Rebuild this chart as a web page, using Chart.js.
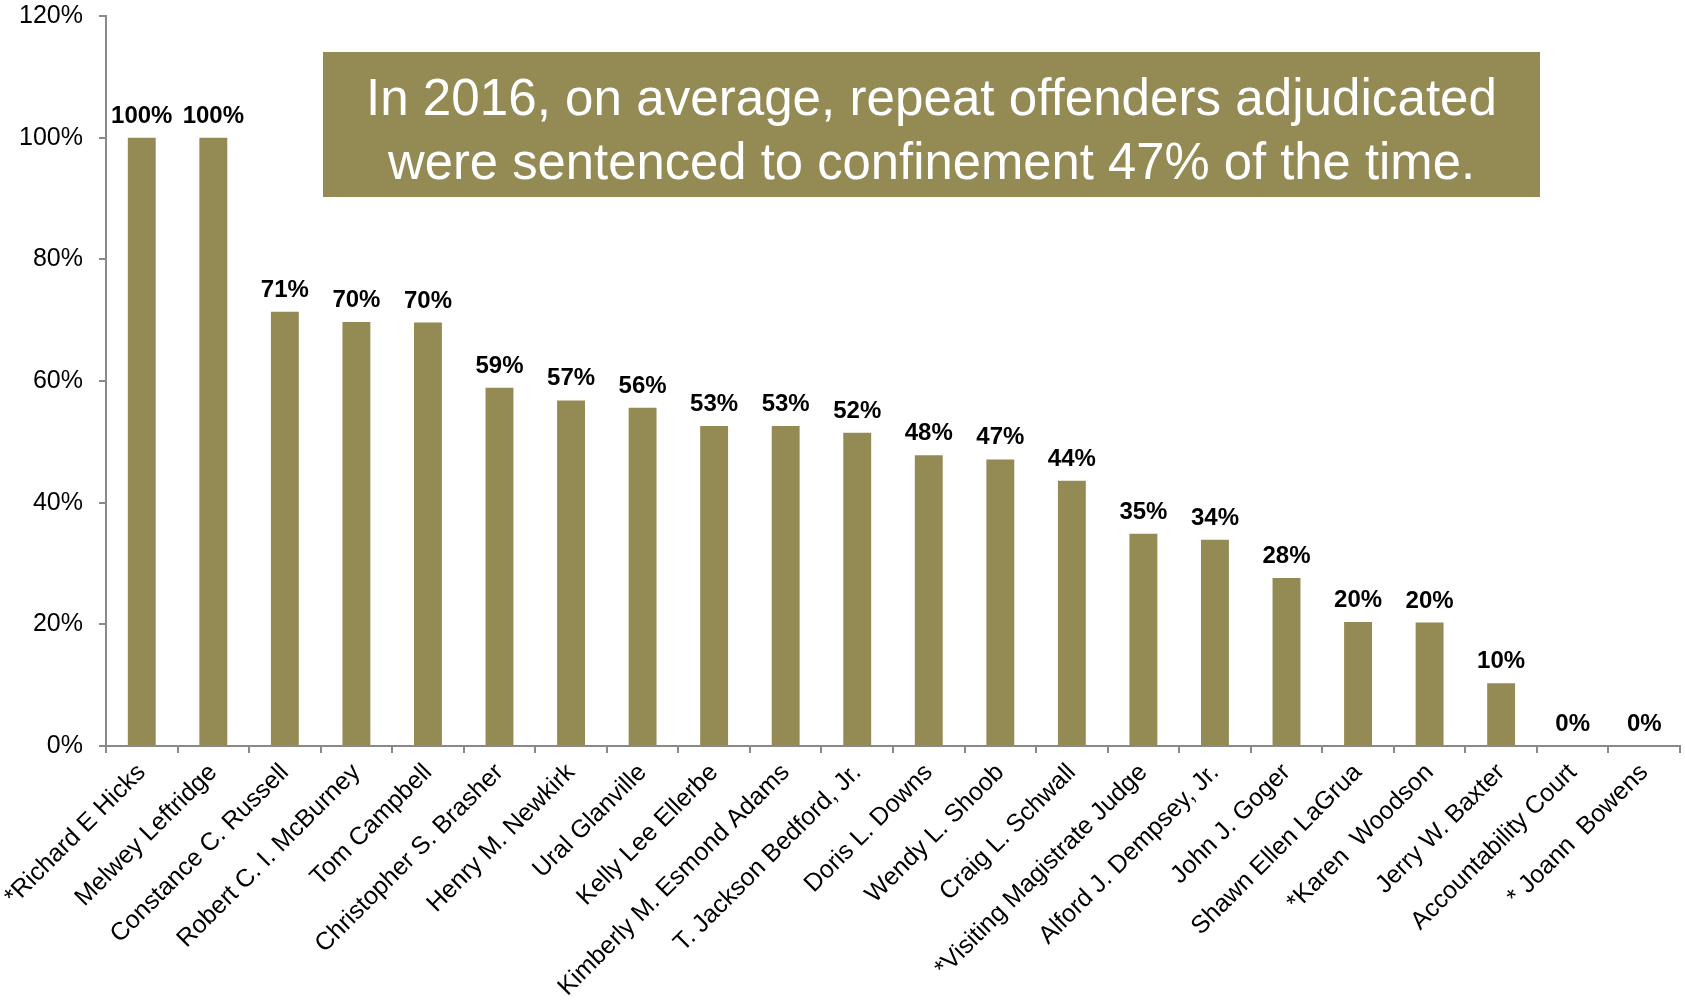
<!DOCTYPE html>
<html lang="en">
<head>
<meta charset="UTF-8">
<title>Repeat offenders sentenced to confinement, 2016</title>
<script src="https://cdn.jsdelivr.net/npm/chart.js"></script>
<style>
    body, html { margin: 0; padding: 0; background: #fff; }
    #chartContainer { width: 1685px; height: 1003px; position: relative; }
</style>
</head>
<body>
<div id="chartContainer"><canvas id="chartCanvas" width="1685" height="1003"></canvas></div>

<script>
    // judges, in the order the bars are drawn
    const judges = [
        '*Richard E Hicks', 'Melwey Leftridge', 'Constance C. Russell', 'Robert C. I. McBurney',
        'Tom Campbell', 'Christopher S. Brasher', 'Henry M. Newkirk', 'Ural Glanville',
        'Kelly Lee Ellerbe', 'Kimberly M. Esmond Adams', 'T. Jackson Bedford, Jr.', 'Doris L. Downs',
        'Wendy L. Shoob', 'Craig L. Schwall', '*Visiting Magistrate Judge', 'Alford J. Dempsey, Jr.',
        'John J. Goger', 'Shawn Ellen LaGrua', '*Karen  Woodson', 'Jerry W. Baxter',
        'Accountability Court', '* Joann  Bowens'
    ];

    // share of repeat offenders sentenced to confinement (%)
    const confinementRates = [
        100, 100, 71.4, 69.7, 69.6, 58.9, 56.8, 55.6, 52.6, 52.6, 51.5,
        47.8, 47.1, 43.6, 34.9, 33.9, 27.6, 20.4, 20.3, 10.3, 0, 0
    ];

    const yTicks = [0, 20, 40, 60, 80, 100, 120];

    const calloutLines = [
        'In 2016, on average, repeat offenders adjudicated',
        'were sentenced to confinement 47% of the time.'
    ];

    const barColor = '#948A54';
    const axisColor = '#898989';
    const fontFamily = '"Liberation Sans", Arial, sans-serif';

    Chart.defaults.font.family = fontFamily;

    // percent label above each bar
    const valueLabels = {
        id: 'valueLabels',
        afterDatasetsDraw(chart) {
            const ctx = chart.ctx;
            const meta = chart.getDatasetMeta(0);
            ctx.save();
            ctx.font = 'bold 24px ' + fontFamily;
            ctx.fillStyle = '#000';
            ctx.textAlign = 'center';
            ctx.textBaseline = 'alphabetic';
            meta.data.forEach((bar, i) => {
                ctx.fillText(Math.round(confinementRates[i]) + '%', bar.x, bar.y - 15);
            });
            ctx.restore();
        }
    };

    // olive callout box with the summary text
    const calloutBox = {
        id: 'calloutBox',
        afterDraw(chart) {
            const ctx = chart.ctx;
            const x = 323, y = 52, w = 1217, h = 145;
            ctx.save();
            ctx.fillStyle = barColor;
            ctx.fillRect(x, y, w, h);
            ctx.fillStyle = '#fff';
            ctx.font = '52px ' + fontFamily;
            ctx.textAlign = 'center';
            ctx.textBaseline = 'alphabetic';
            ctx.fillText(calloutLines[0], x + w / 2, 115, 1131);
            ctx.fillText(calloutLines[1], x + w / 2, 179, 1087);
            ctx.restore();
        }
    };

    const ctx = document.getElementById('chartCanvas').getContext('2d');
    new Chart(ctx, {
        type: 'bar',
        data: {
            labels: judges,
            datasets: [{
                data: confinementRates,
                backgroundColor: barColor,
                barPercentage: 0.39,
                categoryPercentage: 1.0
            }]
        },
        options: {
            responsive: false,
            animation: false,
            layout: { padding: { top: 16, right: 5, left: 0, bottom: 0 } },
            plugins: { legend: { display: false }, tooltip: { enabled: false } },
            scales: {
                x: {
                    grid: { offset: true, drawOnChartArea: false, tickLength: 7, color: axisColor, lineWidth: 2 },
                    border: { color: axisColor, width: 2 },
                    ticks: { autoSkip: false, maxRotation: 45, minRotation: 45, color: '#000', font: { size: 25 }, padding: 5 },
                    afterFit(scale) { scale.height = 257; }
                },
                y: {
                    min: 0,
                    max: 120,
                    grid: { drawOnChartArea: false, tickLength: 7, color: axisColor, lineWidth: 2 },
                    border: { color: axisColor, width: 2 },
                    ticks: { padding: 16, color: '#000', font: { size: 25 }, callback: v => v + '%' },
                    afterBuildTicks(scale) { scale.ticks = yTicks.map(v => ({ value: v })); },
                    afterFit(scale) {
                        scale.width = 106;
                        // the 120% label may sit in the top padding
                        scale.paddingTop = 0;
                        scale.paddingBottom = 0;
                    }
                }
            }
        },
        plugins: [valueLabels, calloutBox]
    });
</script>
</body>
</html>
